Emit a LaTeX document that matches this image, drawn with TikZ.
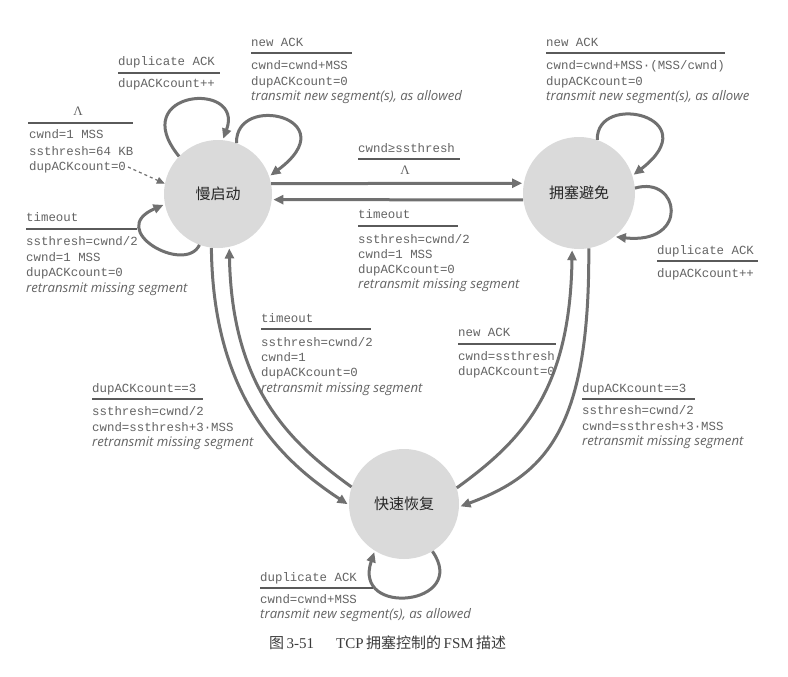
\documentclass[tikz,border=0pt]{standalone}
\usepackage{fontspec}
\usetikzlibrary{arrows.meta}
\setmainfont{Liberation Serif}
\newfontfamily\monof{Liberation Mono}
\newfontfamily\itf{Open Sans}
\newfontfamily\cjk{Noto Sans CJK SC}
\definecolor{txtc}{HTML}{646464}
\definecolor{ulc}{HTML}{5A5A5A}
\definecolor{arrc}{HTML}{707070}
\definecolor{statec}{HTML}{DADADA}
\definecolor{capc}{HTML}{3C3C3C}
\tikzset{
  mono/.style={font=\monof\fontsize{12.4}{14}\selectfont, text=txtc, anchor=base west, inner sep=0pt},
  ital/.style={font=\itf\itshape\fontsize{13.2}{14}\selectfont, text=txtc, anchor=base west, inner sep=0pt},
  lam/.style={font=\fontsize{13}{14}\selectfont, text=txtc, anchor=base, inner sep=0pt},
  uline/.style={draw=ulc, line width=1.3pt},
  arr/.style={draw=arrc, line width=3pt, shorten >=1.5pt, -{Triangle[length=10pt,width=9pt]}},
  initarr/.style={draw=arrc, line width=1.2pt, dashed, -{Triangle[length=8pt,width=7pt]}},
  statebox/.style={circle, fill=statec, minimum size=#1, inner sep=0pt, text=black!85,
     font=\cjk\fontsize{15}{16}\selectfont},
}
\begin{document}
\begin{tikzpicture}[x=1pt,y=-1pt]
\useasboundingbox (0,0) rectangle (788,677);
\fill[white] (0,0) rectangle (788,677);

% states
\node[statebox=108pt] (ss) at (218,194) {慢启动};
\node[statebox=112pt] (ca) at (579,193) {拥塞避免};
\node[statebox=110pt] (fr) at (404,504) {快速恢复};

% horizontal transitions
\draw[arr] (ss.11) -- (ca.170);
\draw[arr] (ca.187) -- (ss.-6);

% slow start loops
\draw[arr] (ss.136) .. controls (125,90) and (245,80) .. (ss.85);
\draw[arr] (ss.70) .. controls (235,92) and (348,118) .. (ss.19);
\draw[arr] (ss.250) .. controls (185,275) and (105,230) .. (ss.191);

% congestion avoidance loops
\draw[arr] (ca.71) .. controls (596,91) and (709,117) .. (ca.18);
\draw[arr] (ca.5) .. controls (680,175) and (690,245) .. (ca.-51);

% fast recovery loop
\draw[arr] (fr.-59) .. controls (470,605) and (352,618) .. (fr.238);

% vertical transitions
\draw[arr] (ss.263) .. controls (213,400) and (285,463) .. (fr.181);
\draw[arr] (fr.162) .. controls (292,444) and (232,390) .. (ss.282);
\draw[arr] (fr.17) .. controls (523,440) and (570,390) .. (ca.263);
\draw[arr] (ca.280) .. controls (590,430) and (545,475) .. (fr.-3);

% initial transition
\node[lam] (i0) at (78,115) {Λ};
\draw[uline] (28,123) -- (133,123);
\node[mono] (i1) at (29,139) {cwnd=1 MSS};
\node[mono] (i2) at (29,155) {ssthresh=64 KB};
\node[mono] (i3) at (29,170) {dupACKcount=0};
\coordinate (istart) at (128,167);
\draw[initarr] (istart) -- (ss.169);

% slow start: duplicate ACK
\node[mono] (a0) at (118,66) {duplicate ACK};
\draw[uline] (118,73) -- (220,73);
\node[mono] (a1) at (118,88) {dupACKcount++};

% slow start: new ACK
\node[mono] (b0) at (251,47) {new ACK};
\draw[uline] (251,53) -- (352,53);
\node[mono] (b1) at (251,70) {cwnd=cwnd+MSS};
\node[mono] (b2) at (251,85) {dupACKcount=0};
\node[ital] (b3) at (251,101) {transmit new segment(s), as allowed};

% congestion avoidance: new ACK
\node[mono] (c0) at (546,47) {new ACK};
\draw[uline] (546,53) -- (725,53);
\node[mono] (c1) at (546,70) {cwnd=cwnd+MSS·(MSS/cwnd)};
\node[mono] (c2) at (546,85) {dupACKcount=0};
\node[ital] (c3) at (546,101) {transmit new segment(s), as allowe};

% cwnd >= ssthresh
\node[mono] (d0) at (358,152) {cwnd≥ssthresh};
\draw[uline] (358,159) -- (460,159);
\node[lam] (d1) at (405,175) {Λ};

% CA -> SS timeout
\node[mono] (e0) at (358,218) {timeout};
\draw[uline] (358,226) -- (458,226);
\node[mono] (e1) at (358,243) {ssthresh=cwnd/2};
\node[mono] (e2) at (358,258) {cwnd=1 MSS};
\node[mono] (e3) at (358,273) {dupACKcount=0};
\node[ital] (e4) at (358,288) {retransmit missing segment};

% SS timeout loop
\node[mono] (f0) at (26,221) {timeout};
\draw[uline] (26,229) -- (137,229);
\node[mono] (f1) at (26,245) {ssthresh=cwnd/2};
\node[mono] (f2) at (26,261) {cwnd=1 MSS};
\node[mono] (f3) at (26,276) {dupACKcount=0};
\node[ital] (f4) at (26,292) {retransmit missing segment};

% CA duplicate ACK
\node[mono] (g0) at (657,254) {duplicate ACK};
\draw[uline] (657,261) -- (758,261);
\node[mono] (g1) at (657,277) {dupACKcount++};

% FR -> SS timeout
\node[mono] (h0) at (261,322) {timeout};
\draw[uline] (261,329) -- (371,329);
\node[mono] (h1) at (261,346) {ssthresh=cwnd/2};
\node[mono] (h2) at (261,361) {cwnd=1};
\node[mono] (h3) at (261,376) {dupACKcount=0};
\node[ital] (h4) at (261,392) {retransmit missing segment};

% FR -> CA new ACK
\node[mono] (k0) at (458,336) {new ACK};
\draw[uline] (458,344) -- (556,344);
\node[mono] (k1) at (458,360) {cwnd=ssthresh};
\node[mono] (k2) at (458,375) {dupACKcount=0};

% SS -> FR
\node[mono] (m0) at (92,392) {dupACKcount==3};
\draw[uline] (92,399) -- (203,399);
\node[mono] (m1) at (92,415) {ssthresh=cwnd/2};
\node[mono] (m2) at (92,431) {cwnd=ssthresh+3·MSS};
\node[ital] (m3) at (92,446) {retransmit missing segment};

% CA -> FR
\node[mono] (n0) at (582,392) {dupACKcount==3};
\draw[uline] (582,399) -- (695,399);
\node[mono] (n1) at (582,414) {ssthresh=cwnd/2};
\node[mono] (n2) at (582,430) {cwnd=ssthresh+3·MSS};
\node[ital] (n3) at (582,445) {retransmit missing segment};

% FR duplicate ACK
\node[mono] (p0) at (260,581) {duplicate ACK};
\draw[uline] (260,588) -- (373,588);
\node[mono] (p1) at (260,603) {cwnd=cwnd+MSS};
\node[ital] (p2) at (260,618) {transmit new segment(s), as allowed};

% caption
\node[anchor=base west, inner sep=0pt, text=capc, font=\fontsize{15}{16}\selectfont] (cap) at (269,648)
  {{\cjk 图}\,3-51\hspace{22pt}TCP\,{\cjk 拥塞控制的}\,FSM\,{\cjk 描述}};
\end{tikzpicture}
\end{document}
